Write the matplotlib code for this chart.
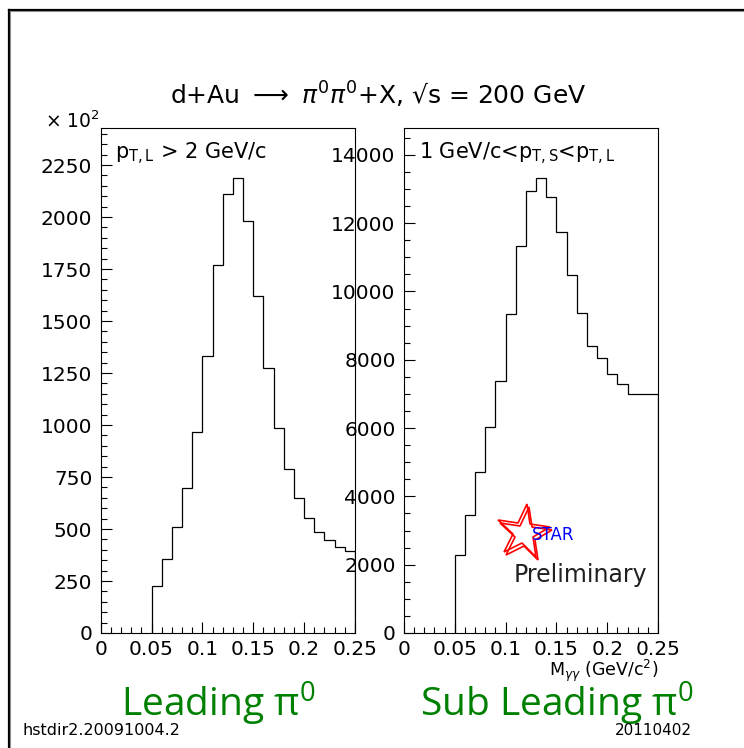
import matplotlib
matplotlib.use('Agg')
import matplotlib.pyplot as plt
from matplotlib.lines import Line2D
from matplotlib.markers import MarkerStyle
from matplotlib.ticker import MultipleLocator
from matplotlib.transforms import Affine2D

plt.rcParams['font.family'] = ['DejaVu Sans']
plt.rcParams['mathtext.fontset'] = 'dejavusans'
# 大字标签用的字体（通过 math_fontfamily='custom' 调用）
plt.rcParams['mathtext.rm'] = 'Open Sans'
plt.rcParams['mathtext.it'] = 'Open Sans:italic'

# 双光子不变质量分布, 0.01 GeV/c^2 一个 bin
mass_edges = [0.05, 0.06, 0.07, 0.08, 0.09, 0.10, 0.11, 0.12, 0.13, 0.14, 0.15,
              0.16, 0.17, 0.18, 0.19, 0.20, 0.21, 0.22, 0.23, 0.24, 0.25]
# 领头 pi0 (单位 x10^2)
leading_counts = [224, 357, 512, 697, 967, 1332, 1771, 2112, 2186, 1981,
                  1622, 1275, 988, 788, 647, 551, 485, 445, 415, 396]
# 次领头 pi0
subleading_counts = [2290, 3460, 4710, 6020, 7390, 9340, 11340, 12930, 13320, 12780,
                     11730, 10470, 9380, 8390, 8040, 7570, 7300, 7010, 7010, 7010]

W, H = 744, 748
fig = plt.figure(figsize=(W / 100, H / 100), dpi=100)


def px(x, y):
    # 像素坐标 -> figure 坐标
    return x / W, 1 - y / H


def setup_axes(ax, ymax, ymajor, yminor):
    ax.set_xlim(0, 0.25)
    ax.set_ylim(0, ymax)
    ax.xaxis.set_major_locator(MultipleLocator(0.05))
    ax.xaxis.set_minor_locator(MultipleLocator(0.01))
    ax.yaxis.set_major_locator(MultipleLocator(ymajor))
    ax.yaxis.set_minor_locator(MultipleLocator(yminor))
    ax.xaxis.set_major_formatter(lambda v, p: '0' if abs(v) < 1e-9 else ('%.2f' % v).rstrip('0'))
    ax.tick_params(which='both', direction='in', top=False, right=False, width=0.8,
                   labelsize=14.5, colors='black')
    ax.tick_params(which='major', length=8)
    ax.tick_params(which='minor', length=4)
    ax.tick_params(axis='y', pad=6)
    ax.tick_params(axis='x', pad=5)
    for s in ax.spines.values():
        s.set_linewidth(0.8)


# 左图
ax1 = fig.add_axes([100.7 / W, 1 - 633 / H, 254.3 / W, 505 / H])
setup_axes(ax1, 2428, 250, 50)
ax1.stairs(leading_counts, mass_edges, baseline=0, color='black', linewidth=0.9)
ax1.text(0.055, 0.975, r'p$_{\mathregular{T,L}}$ > 2 GeV/c', transform=ax1.transAxes,
         fontsize=15, va='top', ha='left')

# 右图
ax2 = fig.add_axes([404 / W, 1 - 633 / H, 254 / W, 505 / H])
setup_axes(ax2, 14787, 2000, 500)
ax2.stairs(subleading_counts, mass_edges, baseline=0, color='black', linewidth=0.9)
ax2.text(0.06, 0.975, r'1 GeV/c<p$_{\mathregular{T,S}}$<p$_{\mathregular{T,L}}$',
         transform=ax2.transAxes, fontsize=15, va='top', ha='left')
ax2.text(*px(658, 676), r'M$_{\gamma\gamma}$ (GeV/c$^{2}$)', transform=fig.transFigure,
         fontsize=12.5, ha='right', va='baseline')

# STAR Preliminary 标记
star = MarkerStyle('*', transform=Affine2D().rotate_deg(-8))
ax2.plot([0.47], [0.2], transform=ax2.transAxes, marker=star, markersize=40,
         markerfacecolor='none', markeredgecolor='red', markeredgewidth=1.2, linestyle='none')
ax2.plot([0.478], [0.194], transform=ax2.transAxes, marker=star, markersize=40,
         markerfacecolor='none', markeredgecolor='red', markeredgewidth=1.2, linestyle='none')
ax2.text(*px(532, 540), 'STAR', transform=fig.transFigure, color='blue', fontsize=12,
         ha='left', va='baseline')
ax2.text(*px(514, 582), 'Preliminary', transform=fig.transFigure, color='#202020',
         fontsize=17, ha='left', va='baseline')

# 标题及其他文字
fig.text(*px(378, 105), r'd+Au $\longrightarrow$ $\pi^{0}\pi^{0}$+X, √s = 200 GeV',
         fontsize=18, ha='center', va='baseline')
fig.text(*px(45, 128), r'× 10$^{2}$', fontsize=13.5, ha='left', va='baseline')
fig.text(*px(121, 717), r'Leading π$^{0}$', color='#008000', fontsize=28,
         family='Open Sans', math_fontfamily='custom', ha='left', va='baseline')
fig.text(*px(420, 717), r'Sub Leading π$^{0}$', color='#008000', fontsize=28,
         family='Open Sans', math_fontfamily='custom', ha='left', va='baseline')
fig.text(*px(22, 735), 'hstdir2.20091004.2', fontsize=11.5, ha='left', va='baseline')
fig.text(*px(692, 735), '20110402', fontsize=11, ha='right', va='baseline')

# 画布边框（只露出上边和左边）
fig.add_artist(Line2D([8.5 / W, 8.5 / W], [0, 1 - 9.5 / H], color='black', linewidth=1.6,
                      transform=fig.transFigure, solid_capstyle='projecting'))
fig.add_artist(Line2D([8.5 / W, 1], [1 - 9.5 / H, 1 - 9.5 / H], color='black', linewidth=1.6,
                      transform=fig.transFigure, solid_capstyle='projecting'))
fig.add_artist(Line2D([10.2 / W, 10.2 / W], [0, 1 - 11 / H], color='#909090', linewidth=0.8,
                      transform=fig.transFigure))
fig.add_artist(Line2D([10.2 / W, 1], [1 - 11 / H, 1 - 11 / H], color='#909090', linewidth=0.8,
                      transform=fig.transFigure))

fig.savefig('out.png', dpi=100)
